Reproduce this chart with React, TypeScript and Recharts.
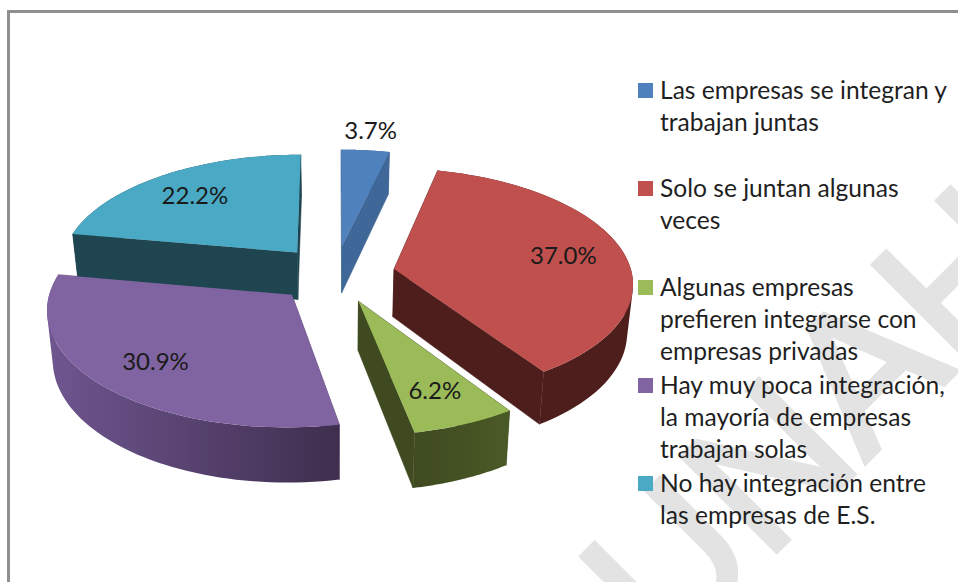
import React from "react";
import { PieChart, Pie, Legend } from "recharts";

const categories = [
  "Las empresas se integran y trabajan juntas",
  "Solo se juntan algunas veces",
  "Algunas empresas prefieren integrarse con empresas privadas",
  "Hay muy poca integración, la mayoría de empresas trabajan solas",
  "No hay integración entre las empresas de E.S.",
];
const values = [3.7, 37.0, 6.2, 30.9, 22.2];
const topColors = ["#4f81bd", "#c0504d", "#9bbb59", "#8064a2", "#4aa9c4"];
const cutColors = ["#3f6797", "#4e1e1d", "#3f4a20", "#5a4672", "#1f4550"];
const arcFrom = ["#3f6797", "#4e1e1d", "#3f4a20", "#6f5690", "#1f4550"];
const arcTo = ["#3f6797", "#4e1e1d", "#4a5a26", "#3f2e4e", "#1f4550"];

const WIDTH = 958;
const HEIGHT = 582;
const CX = 335;
const CY = 274;
const RADIUS = 238;
const TILT = 0.475;
const PERSPECTIVE = 0.11;
const EXPLODE = 0.253;
const DEPTH = 48;
const BOTTOM_SHRINK = 0.98;
const TEXT_FONT = "Lato, 'Noto Sans', sans-serif";

const rows = categories.map((name, i) => ({ name, value: values[i], fill: topColors[i], idx: i }));

type Pt = { x: number; y: number };

function project(u: number, v: number, cx: number, cy: number, r: number) {
  const s = 1 / (1 - PERSPECTIVE * v);
  return { x: cx + r * u * s, y: cy + r * TILT * v * s, s };
}

function clockAngle(deg: number) {
  return ((90 - deg) * Math.PI) / 180;
}

function rimPoint(a: number, m: number, f: number, e: number, cx: number, cy: number, r: number) {
  return project(
    e * Math.sin(m) + f * Math.sin(a),
    -e * Math.cos(m) - f * Math.cos(a),
    cx,
    cy,
    r
  );
}

function geometry(p: any) {
  const { cx, cy, outerRadius: r, startAngle, endAngle } = p;
  const a0 = clockAngle(startAngle);
  const a1 = clockAngle(endAngle);
  const m = (a0 + a1) / 2;
  const apex = rimPoint(0, m, 0, EXPLODE, cx, cy, r);
  const rim: ReturnType<typeof project>[] = [];
  const n = 60;
  for (let i = 0; i <= n; i++) {
    rim.push(rimPoint(a0 + ((a1 - a0) * i) / n, m, 1, EXPLODE, cx, cy, r));
  }
  return { apex, rim, cx };
}

const down = (pt: { x: number; y: number; s: number }, cx: number): Pt => ({
  x: cx + (pt.x - cx) * BOTTOM_SHRINK,
  y: pt.y + DEPTH * pt.s,
});

const path = (pts: Pt[]) =>
  "M" + pts.map((q) => `${q.x.toFixed(2)},${q.y.toFixed(2)}`).join("L") + "Z";

// Every quad gets the same winding, so the swept wall fills as one solid shape.
function orient(pts: Pt[]) {
  let area = 0;
  pts.forEach((q, i) => {
    const nx = pts[(i + 1) % pts.length];
    area += q.x * nx.y - nx.x * q.y;
  });
  return area < 0 ? pts.slice().reverse() : pts;
}

function WallShape(p: any) {
  const { apex, rim, cx } = geometry(p);
  const idx = p.payload?.idx ?? p.idx ?? 0;
  const first = rim[0];
  const last = rim[rim.length - 1];
  const wall1 = [apex, first, down(first, cx), down(apex, cx)];
  const wall2 = [apex, last, down(last, cx), down(apex, cx)];
  const xs = rim.map((q) => q.x);
  const gid = `arc-${idx}`;
  const sweep = rim
    .slice(1)
    .map((q, i) => path(orient([rim[i], q, down(q, cx), down(rim[i], cx)])))
    .join("");
  return (
    <g>
      <defs>
        <linearGradient
          id={gid}
          gradientUnits="userSpaceOnUse"
          x1={Math.min(...xs)}
          x2={Math.max(...xs)}
          y1={0}
          y2={0}
        >
          <stop offset="0%" stopColor={arcFrom[idx]} />
          <stop offset="100%" stopColor={arcTo[idx]} />
        </linearGradient>
      </defs>
      <path d={path(wall1)} fill={cutColors[idx]} stroke={cutColors[idx]} strokeWidth={0.5} />
      <path d={path(wall2)} fill={cutColors[idx]} stroke={cutColors[idx]} strokeWidth={0.5} />
      <path d={sweep} fill={`url(#${gid})`} fillRule="nonzero" />
    </g>
  );
}

function TopShape(p: any) {
  const { apex, rim } = geometry(p);
  return <path d={path([apex, ...rim])} fill={p.fill} />;
}

function renderLabel(p: any) {
  const { cx, cy, outerRadius: r, startAngle, endAngle, percent } = p;
  const sa = startAngle ?? 0;
  const a0 = clockAngle(sa);
  const a1 = clockAngle(endAngle ?? sa);
  const m = (a0 + a1) / 2;
  const f = percent < 0.05 ? 1.25 : 0.74;
  const pt = rimPoint(m, m, f, EXPLODE, cx, cy, r);
  return (
    <text
      x={pt.x}
      y={pt.y}
      textAnchor="middle"
      dominantBaseline="central"
      fontFamily={TEXT_FONT}
      fontSize={24}
      fill="#1a1a1a"
    >
      {(percent * 100).toFixed(1)}%
    </text>
  );
}

function LegendBox(props: any) {
  const seen = new Set<string>();
  const items = (props.payload || [])
    .filter((it: any) => {
      if (seen.has(it.value)) return false;
      seen.add(it.value);
      return true;
    })
    .sort((a: any, b: any) => categories.indexOf(a.value) - categories.indexOf(b.value));
  return (
    <div style={{ fontFamily: TEXT_FONT, fontSize: 24.6, lineHeight: "32px", color: "#1f1f1f" }}>
      {items.map((it: any) => (
        <div key={it.value} style={{ height: 98.25, position: "relative", paddingLeft: 24 }}>
          <span
            style={{
              position: "absolute",
              left: 2,
              top: 9,
              width: 15,
              height: 15,
              background: topColors[categories.indexOf(it.value)],
            }}
          />
          {it.value}
        </div>
      ))}
    </div>
  );
}

export default function App() {
  return (
    <div
      style={{
        position: "absolute",
        left: 0,
        top: 0,
        width: WIDTH,
        height: HEIGHT,
        overflow: "hidden",
        background: "#fff",
      }}
    >
      <svg width={WIDTH} height={HEIGHT} style={{ position: "absolute", left: 0, top: 0 }}>
        <text
          transform="translate(666 662) rotate(-45)"
          fontFamily="'Liberation Sans', sans-serif"
          fontSize={195}
          fill="#e3e3e3"
          stroke="#e3e3e3"
          strokeWidth={5}
        >
          UNAH
        </text>
      </svg>
      <div
        style={{
          position: "absolute",
          left: 7,
          top: 10,
          width: WIDTH,
          height: HEIGHT,
          borderTop: "3px solid #8f8f8f",
          borderLeft: "3px solid #8f8f8f",
        }}
      />
      <div style={{ position: "absolute", left: 0, top: 0 }}>
        <PieChart width={WIDTH} height={HEIGHT} margin={{ top: 0, right: 0, bottom: 0, left: 0 }}>
          <Pie
            data={rows}
            dataKey="value"
            nameKey="name"
            cx={CX}
            cy={CY}
            outerRadius={RADIUS}
            startAngle={90}
            endAngle={-270}
            isAnimationActive={false}
            shape={WallShape}
            stroke="none"
          />
          <Pie
            data={rows}
            dataKey="value"
            nameKey="name"
            cx={CX}
            cy={CY}
            outerRadius={RADIUS}
            startAngle={90}
            endAngle={-270}
            isAnimationActive={false}
            shape={TopShape}
            legendType="none"
            stroke="none"
            label={renderLabel}
            labelLine={false}
          />
          <Legend
            layout="vertical"
            verticalAlign="top"
            align="right"
            content={LegendBox}
            wrapperStyle={{ left: 636, top: 74, width: 315 }}
          />
        </PieChart>
      </div>
    </div>
  );
}
